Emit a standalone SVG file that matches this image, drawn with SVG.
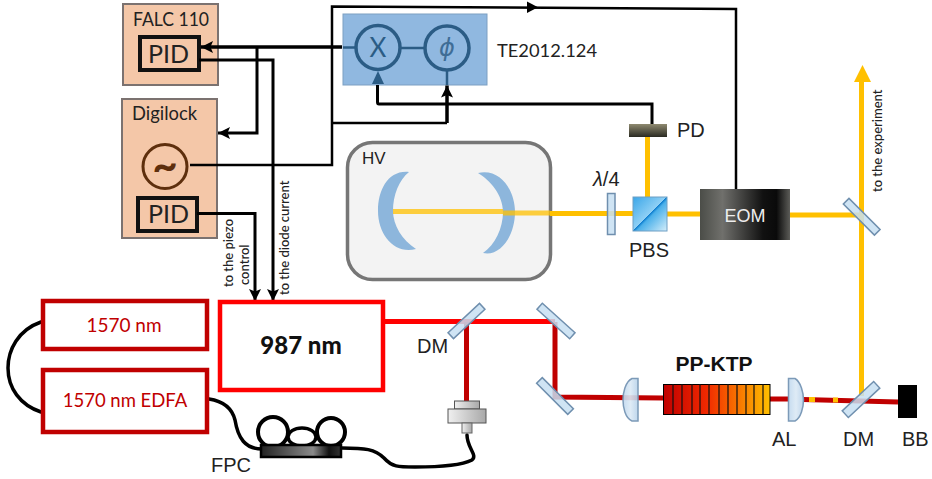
<svg xmlns="http://www.w3.org/2000/svg" width="932" height="479" viewBox="0 0 932 479">
<style>
text{font-family:"Liberation Sans",Arial,sans-serif;fill:#222}
.c{font-family:Lato,"Open Sans",sans-serif}
.peach{fill:#f4c7a8;stroke:#7b7270;stroke-width:2}
.pid{fill:none;stroke:#111;stroke-width:4}
.w{fill:none;stroke:#000;stroke-linejoin:miter}
.y{fill:none;stroke:#ffc000;stroke-width:5}
.r{fill:none;stroke:#c00000;stroke-width:5}
.f{fill:none;stroke:#000;stroke-width:3.5;stroke-linecap:round}
.m{fill:#c7dff2;fill-opacity:.85;stroke:#6f8fae;stroke-width:1.5}
.rb{fill:#fff;stroke-width:4.5}
.l{font-size:20px}
.s{font-size:13px;font-weight:500}
</style>
<defs>
<marker id="a" markerUnits="userSpaceOnUse" markerWidth="14" markerHeight="14" refX="12" refY="6" orient="auto"><path d="M0 0L12 6L0 12L2.5 6Z" fill="#000"/></marker>
<linearGradient id="eom" x1="0" x2="1" y1="0" y2="0"><stop offset="0" stop-color="#4b4d48"/><stop offset=".25" stop-color="#70706c"/><stop offset=".7" stop-color="#111"/><stop offset=".85" stop-color="#0a0a0a"/><stop offset="1" stop-color="#5c5c58"/></linearGradient>
<linearGradient id="pd" x1="0" x2="0" y1="0" y2="1"><stop offset="0" stop-color="#8f8a70"/><stop offset="1" stop-color="#2a2a22"/></linearGradient>
<linearGradient id="pbs" x1="0" x2="1" y1="0" y2="1"><stop offset="0" stop-color="#3aa6e8"/><stop offset=".49" stop-color="#8fd0f5"/><stop offset=".5" stop-color="#0f7fd0"/><stop offset=".55" stop-color="#4ab0ea"/><stop offset="1" stop-color="#d5eefa"/></linearGradient>
<linearGradient id="ktp" x1="0" x2="1" y1="0" y2="0"><stop offset="0" stop-color="#c00000"/><stop offset=".4" stop-color="#f02800"/><stop offset="1" stop-color="#ffc000"/></linearGradient>
<linearGradient id="fpc" x1="0" x2="1" y1="0" y2="0"><stop offset="0" stop-color="#222"/><stop offset=".65" stop-color="#8a8a8a"/><stop offset=".85" stop-color="#111"/><stop offset="1" stop-color="#333"/></linearGradient>
<linearGradient id="cp" x1="0" x2="1" y1="0" y2="0"><stop offset="0" stop-color="#f0f0f0"/><stop offset="1" stop-color="#a8a8a8"/></linearGradient>
<linearGradient id="lens" x1="0" x2="1" y1="0" y2="0"><stop offset="0" stop-color="#c0d8ee"/><stop offset=".5" stop-color="#dbe9f5"/><stop offset="1" stop-color="#b8d2ea"/></linearGradient>
</defs>

<g id="falc"><rect class="peach" x="123" y="4" width="95" height="81"/><text class="c" x="133" y="26" font-size="20" textLength="76" lengthAdjust="spacingAndGlyphs">FALC 110</text><rect class="pid" x="140" y="37" width="59" height="33"/><text class="c" x="148" y="63" font-size="25">PID</text></g>
<g id="digilock"><rect class="peach" x="122" y="99" width="95" height="139"/><text class="c" x="132" y="120" font-size="19" textLength="65" lengthAdjust="spacingAndGlyphs">Digilock</text><circle cx="165" cy="166.500" r="22" fill="none" stroke="#5e2f0d" stroke-width="3"/><text class="c" x="165" y="181" font-size="44" font-weight="700" text-anchor="middle" style="fill:#5e2f0d">~</text><rect class="pid" x="138" y="198" width="59" height="33"/><text class="c" x="148" y="223" font-size="25">PID</text></g>
<g id="te2012"><rect x="343" y="14" width="144" height="71" fill="#90b8e0" stroke="#7d9fc2" stroke-width="1"/><path d="M343 47.500H356M400 48H425M447 70V85" fill="none" stroke="#2b5c85" stroke-width="2.500"/><path d="M378 71L384 84H372Z" fill="#2b5c85"/><circle cx="378" cy="47.500" r="22" fill="none" stroke="#2b5c85" stroke-width="3.500"/><circle cx="447" cy="48" r="22" fill="none" stroke="#2b5c85" stroke-width="3.500"/><text class="c" x="378" y="56.500" font-size="26" text-anchor="middle" style="fill:#2b5c85">X</text><text x="447" y="56" font-size="24" font-style="italic" text-anchor="middle" style="fill:#3f6d96;font-family:'DejaVu Sans',sans-serif">ϕ</text><text class="c" x="497" y="57" font-size="18" textLength="100" lengthAdjust="spacingAndGlyphs">TE2012.124</text></g>
<g id="hv"><rect x="347.500" y="142.500" width="203" height="137" rx="25" fill="#f3f3f3" stroke="#767676" stroke-width="3.500"/><text x="362" y="164" font-size="17">HV</text><path d="M409 172C388 170 378 190 378 211C378 235 395 255 416 249C402 240 393 225 393 211C393 195 399 180 409 172Z" fill="#8db6dc"/><path d="M478 173C500 168 515 190 515 212C515 236 500 257 483 253C495 245 503 228 503 212C503 195 490 180 478 173Z" fill="#8db6dc"/></g>

<g id="connectors">
<path class="y" d="M393 211.500H503" stroke-opacity=".75"/>
<path class="y" d="M503 213H550" stroke-opacity=".75"/>
<path class="y" d="M550 213.500H633M667 214H700M790 215H861M647.500 137V197M861.500 396V80"/>
<path d="M862.500 65L871 82H854Z" fill="#ffc000"/>
<path d="M383 321.500H555" fill="none" stroke="#f00" stroke-width="5"/>
<path class="r" d="M466.500 322V401M555 322V397L663 398M770 399H788M803 399.500L898 402"/>
<path d="M809 399.500H815M833 400H838" fill="none" stroke="#ffc000" stroke-width="5"/>
<path class="w" stroke-width="3.500" d="M342 47H201" marker-end="url(#a)"/>
<path class="w" stroke-width="3" d="M257 47V133H218" marker-end="url(#a)"/>
<path class="w" stroke-width="3" d="M199 60H273V301" marker-end="url(#a)"/>
<path class="w" stroke-width="3" d="M197 213.500H255V301" marker-end="url(#a)"/>
<path class="w" stroke-width="2.500" d="M190 165H332V6.500L736 9V189"/>
<path d="M538 7.300L527 1.500V13Z" fill="#000"/>
<path class="w" stroke-width="2.500" d="M332 123H447"/>
<path class="w" stroke-width="3.500" d="M447 123V85.500" marker-end="url(#a)"/>
<path class="w" stroke-width="3" d="M652 124V104H379Q377.500 104 377.500 102V85"/>
<path class="f" d="M41 322C18 330 8 350 8 368C8 388 20 405 41 412"/>
<path class="f" stroke-width="3" d="M209 399C222 401 232 408 235 420C238 438 245 449 262 449"/>
<path class="f" stroke-width="3" d="M342 448C365 448 375 449 384 458C392 467 398 467 415 467C440 467 462 465 472 460C478 455 467 448 467 435"/>
</g>

<g id="laser-1570"><rect class="rb" x="43" y="301" width="164" height="48" stroke="#c00000"/><text class="c" x="124" y="332" font-size="19" text-anchor="middle" style="fill:#c00000">1570 nm</text></g>
<g id="edfa"><rect class="rb" x="43" y="370" width="164" height="62" stroke="#c00000"/><text class="c" x="125" y="407" font-size="18.500" text-anchor="middle" style="fill:#c00000">1570 nm EDFA</text></g>
<g id="laser-987"><rect class="rb" x="220" y="302" width="163" height="88" stroke="#f00"/><text class="c" x="301" y="354" font-size="24" font-weight="900" text-anchor="middle" style="fill:#111">987 nm</text></g>
<g id="label-notes"><text class="c s" transform="translate(233 287) rotate(-90)">to the piezo</text><text class="c s" transform="translate(249 285) rotate(-90)">control</text><text class="c s" transform="translate(289 295) rotate(-90)">to the diode current</text><text class="c s" transform="translate(882 192) rotate(-90)">to the experiment</text></g>

<g id="pd-det"><rect x="629" y="124" width="38" height="13" fill="url(#pd)"/><text class="l" x="677" y="137">PD</text></g>
<g id="pbs-cube"><rect x="633" y="197" width="34" height="34" fill="url(#pbs)" stroke="#6f9fc4" stroke-width="1"/><text class="l" x="629" y="257">PBS</text></g>
<g id="waveplate"><rect class="m" x="607.500" y="193.500" width="7.500" height="41"/><text class="l" x="593" y="186"><tspan font-style="italic">λ</tspan>/4</text></g>
<g id="eom-box"><rect x="700" y="189" width="90" height="51" fill="url(#eom)"/><text x="745" y="222" font-size="18" text-anchor="middle" style="fill:#eee">EOM</text></g>
<g id="mirror-top"><rect class="m" x="840" y="212" width="44" height="8" transform="rotate(45 861 216)"/></g>
<g id="mirror-dm1"><rect class="m" x="445" y="317" width="43" height="8" transform="rotate(-43 466.500 321)"/><text class="l" x="417" y="353">DM</text></g>
<g id="mirror-2"><rect class="m" x="534" y="317" width="44" height="8" transform="rotate(42 556 321)"/></g>
<g id="mirror-3"><rect class="m" x="533" y="392" width="44" height="8" transform="rotate(45 555 396)"/></g>
<g id="coupler"><rect x="454.500" y="401" width="25" height="8" fill="url(#cp)" stroke="#555"/><rect x="448" y="409" width="38" height="14" fill="url(#cp)" stroke="#555"/><rect x="462" y="423" width="10" height="10" fill="url(#cp)" stroke="#666"/></g>
<g id="fpc-unit"><circle cx="273" cy="432" r="15" fill="#fff" stroke="#000" stroke-width="4"/><circle cx="331" cy="432" r="14" fill="#fff" stroke="#000" stroke-width="4"/><ellipse cx="302" cy="437" rx="14" ry="9" fill="#fff" stroke="#000" stroke-width="3.500"/><rect x="261" y="445" width="80" height="12" fill="url(#fpc)" stroke="#000" stroke-width="2.500"/><text class="l" x="211" y="472">FPC</text></g>
<g id="lens-1"><path d="M638 378.500H632C625 382 623 393 623 400C623 407 625 418 632 421H638Z" fill="url(#lens)" fill-opacity=".9" stroke="#7c9ab8" stroke-width="1.500"/></g>
<g id="ppktp"><rect x="663.500" y="384.500" width="106.500" height="30" fill="url(#ktp)" stroke="#000" stroke-width="1"/><path d="M673 384V414M682 384V414M692 384V414M700 384V414M709 384V414M719 384V414M728 384V414M737 384V414M746 384V414M754 384V414M763 384V414" stroke="#111" stroke-width="1.200"/><text x="714" y="371" font-size="21" font-weight="700" text-anchor="middle" style="fill:#111">PP-KTP</text></g>
<g id="lens-al"><path d="M788.500 378.500H795C801 382 803.500 393 803.500 400C803.500 407 801 418 795 421H788.500Z" fill="url(#lens)" fill-opacity=".9" stroke="#7c9ab8" stroke-width="1.500"/><text class="l" x="772" y="446">AL</text></g>
<g id="mirror-dm2"><rect class="m" x="839.500" y="395" width="43" height="9" transform="rotate(-43 861 399.500)"/><text class="l" x="843" y="446">DM</text></g>
<g id="beam-block"><rect x="898" y="385" width="19" height="33" fill="#000"/><text class="l" x="902" y="446">BB</text></g>
</svg>
